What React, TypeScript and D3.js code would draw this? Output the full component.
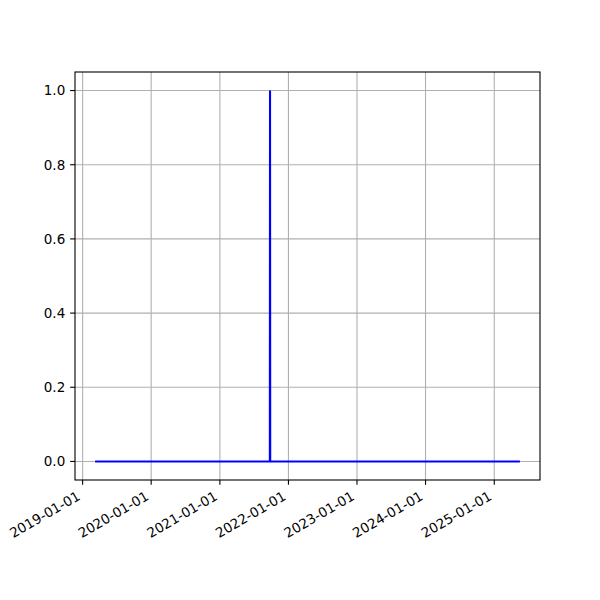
import React from "react";
import * as d3 from "d3";

const dates = ["2019-03-14", "2021-09-24", "2021-09-25", "2021-09-26", "2025-05-12"];
const values = [0, 0, 1, 0, 0];
const xTickLabels = ["2019-01-01", "2020-01-01", "2021-01-01", "2022-01-01", "2023-01-01", "2024-01-01", "2025-01-01"];
const yTicks = [0, 0.2, 0.4, 0.6, 0.8, 1.0];

export default function App() {
  const W = 600, H = 600;
  const left = 75, right = 540, top = 72, bottom = 480;
  const parse = d3.utcParse("%Y-%m-%d");
  const pts = dates.map((d, i) => ({ t: parse(d)!, v: values[i] }));
  const [t0, t1] = d3.extent(pts, (p) => p.t) as [Date, Date];
  const span = +t1 - +t0;
  const x = d3.scaleUtc()
    .domain([new Date(+t0 - span * 0.05), new Date(+t1 + span * 0.05)])
    .range([left, right]);
  const y = d3.scaleLinear().domain([-0.05, 1.05]).range([bottom, top]);
  const line = d3.line<{ t: Date; v: number }>().x((p) => x(p.t)).y((p) => y(p.v));
  const font = "DejaVu Sans, sans-serif";
  const fs = 13.5;
  const tickLen = 4.86;
  return (
    <div style={{ position: "absolute", left: 0, top: 0 }}>
      <svg width={W} height={H} style={{ display: "block", background: "#fff" }}>
        {xTickLabels.map((s) => {
          const xx = x(parse(s)!);
          return <line key={"gx" + s} x1={xx} x2={xx} y1={top} y2={bottom} stroke="#b0b0b0" strokeWidth={1.1} />;
        })}
        {yTicks.map((v) => (
          <line key={"gy" + v} x1={left} x2={right} y1={y(v)} y2={y(v)} stroke="#b0b0b0" strokeWidth={1.1} />
        ))}
        <path d={line(pts)!} fill="none" stroke="#0000ff" strokeWidth={2.08} strokeLinecap="square" />
        <rect x={left} y={top} width={right - left} height={bottom - top} fill="none" stroke="#000" strokeWidth={1.1} />
        {xTickLabels.map((s) => {
          const xx = x(parse(s)!);
          return (
            <g key={"tx" + s}>
              <line x1={xx} x2={xx} y1={bottom} y2={bottom + tickLen} stroke="#000" strokeWidth={1.1} />
              <text
                transform={`translate(${xx - 1.5},${bottom + 19}) rotate(-30)`}
                textAnchor="end"
                fontFamily={font}
                fontSize={fs}
                fill="#000"
              >
                {s}
              </text>
            </g>
          );
        })}
        {yTicks.map((v) => (
          <g key={"ty" + v}>
            <line x1={left - tickLen} x2={left} y1={y(v)} y2={y(v)} stroke="#000" strokeWidth={1.1} />
            <text x={left - 2 * tickLen} y={y(v)} dy="0.36em" textAnchor="end" fontFamily={font} fontSize={fs} fill="#000">
              {v.toFixed(1)}
            </text>
          </g>
        ))}
      </svg>
    </div>
  );
}
